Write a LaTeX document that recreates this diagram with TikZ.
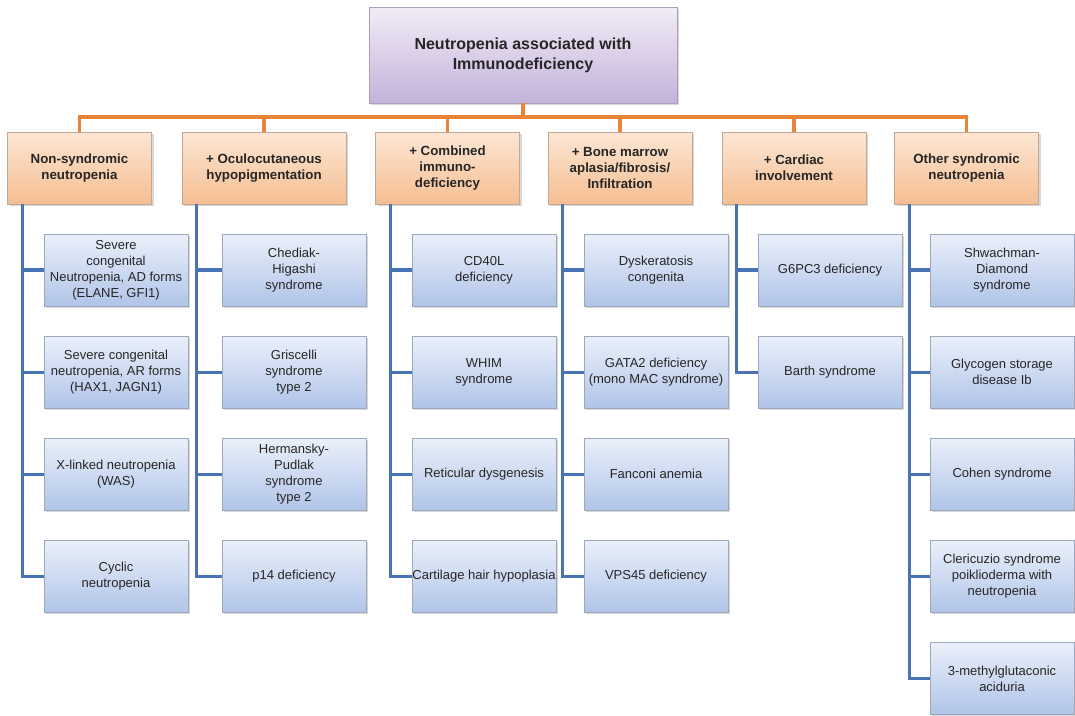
\documentclass[tikz,border=0pt]{standalone}
\usepackage{fontspec}
\setmainfont{Liberation Sans}
\usepackage{xcolor}
\usetikzlibrary{positioning,shadows}

\definecolor{busline}{RGB}{234,132,58}
\definecolor{trunkline}{RGB}{72,116,182}
\definecolor{rootTop}{RGB}{242,236,247}
\definecolor{rootBot}{RGB}{196,178,218}
\definecolor{rootEdge}{RGB}{170,160,184}
\definecolor{headTop}{RGB}{252,230,212}
\definecolor{headBot}{RGB}{245,190,146}
\definecolor{headEdge}{RGB}{196,168,146}
\definecolor{leafTop}{RGB}{234,240,250}
\definecolor{leafBot}{RGB}{176,196,232}
\definecolor{leafEdge}{RGB}{158,168,188}
\definecolor{txt}{RGB}{38,38,38}

\begin{document}
\begin{tikzpicture}[x=1pt, y=-1pt, node distance=29.75pt,
    softshadow/.style={drop shadow={shadow xshift=2pt, shadow yshift=-2pt, opacity=0.35, fill=black!45}},
    rootbox/.style={draw=rootEdge, top color=rootTop, bottom color=rootBot, softshadow,
      minimum width=308pt, minimum height=96pt, align=center, text=black!85,
      font=\bfseries\fontsize{16}{20}\selectfont},
    headbox/.style={draw=headEdge, top color=headTop, bottom color=headBot, softshadow,
      minimum width=144pt, minimum height=72pt, align=center, text=black!85,
      font=\bfseries\fontsize{13.3}{16}\selectfont},
    leafbox/.style={draw=leafEdge, top color=leafTop, bottom color=leafBot, softshadow,
      minimum width=144pt, minimum height=72pt, inner xsep=0pt, align=center, text=txt,
      font=\fontsize{13}{16}\selectfont},
    busstyle/.style={draw=busline, line width=3.2pt},
    trunkstyle/.style={draw=trunkline, line width=3.2pt}]
\useasboundingbox (0,0) rectangle (1075,715);

% Root
\node[rootbox] (root) at (523,55) {Neutropenia associated with\\Immunodeficiency};

% Groups
\node[headbox] (h1) at (79.5,168) {Non-syndromic\\neutropenia};
\node[headbox, minimum width=164pt] (h2) at (264,168) {+ Oculocutaneous\\hypopigmentation};
\node[headbox] (h3) at (447.5,168) {+ Combined\\immuno-\\deficiency};
\node[headbox] (h4) at (620,168) {+ Bone marrow\\aplasia/fibrosis/\\Infiltration};
\node[headbox] (h5) at (794,168) {+ Cardiac\\involvement};
\node[headbox] (h6) at (966.5,168) {Other syndromic\\neutropenia};

% Column 1
\node[leafbox] (n11) at (116,270) {Severe\\congenital\\Neutropenia, AD forms\\(ELANE, GFI1)};
\node[leafbox, below=of n11] (n12) {Severe congenital\\neutropenia, AR forms\\(HAX1, JAGN1)};
\node[leafbox, below=of n12] (n13) {X-linked neutropenia\\(WAS)};
\node[leafbox, below=of n13] (n14) {Cyclic\\neutropenia};

% Column 2
\node[leafbox] (n21) at (294,270) {Chediak-\\Higashi\\syndrome};
\node[leafbox, below=of n21] (n22) {Griscelli\\syndrome\\type 2};
\node[leafbox, below=of n22] (n23) {Hermansky-\\Pudlak\\syndrome\\type 2};
\node[leafbox, below=of n23] (n24) {p14 deficiency};

% Column 3
\node[leafbox] (n31) at (484,270) {CD40L\\deficiency};
\node[leafbox, below=of n31] (n32) {WHIM\\syndrome};
\node[leafbox, below=of n32] (n33) {Reticular dysgenesis};
\node[leafbox, below=of n33] (n34) {Cartilage hair hypoplasia};

% Column 4
\node[leafbox] (n41) at (656,270) {Dyskeratosis\\congenita};
\node[leafbox, below=of n41] (n42) {GATA2 deficiency\\(mono MAC syndrome)};
\node[leafbox, below=of n42] (n43) {Fanconi anemia};
\node[leafbox, below=of n43] (n44) {VPS45 deficiency};

% Column 5
\node[leafbox] (n51) at (830,270) {G6PC3 deficiency};
\node[leafbox, below=of n51] (n52) {Barth syndrome};

% Column 6
\node[leafbox] (n61) at (1002,270) {Shwachman-\\Diamond\\syndrome};
\node[leafbox, below=of n61] (n62) {Glycogen storage\\disease Ib};
\node[leafbox, below=of n62] (n63) {Cohen syndrome};
\node[leafbox, below=of n63] (n64) {Clericuzio syndrome\\poiklioderma with\\neutropenia};
\node[leafbox, below=of n64] (n65) {3-methylglutaconic\\aciduria};

% Orange bus
\coordinate (bus) at (523,117);
\draw[busstyle] (root.south) -- (bus);
\draw[busstyle] (h1.north) |- (bus) -| (h6.north);
\draw[busstyle] (h2.north) -- (h2.north |- bus);
\draw[busstyle] (h3.north) -- (h3.north |- bus);
\draw[busstyle] (h4.north) -- (h4.north |- bus);
\draw[busstyle] (h5.north) -- (h5.north |- bus);

% Blue trunks
\coordinate (t1) at ([xshift=15pt]h1.south west);
\coordinate (t2) at ([xshift=15pt]h2.south west);
\coordinate (t3) at ([xshift=15pt]h3.south west);
\coordinate (t4) at ([xshift=15pt]h4.south west);
\coordinate (t5) at ([xshift=15pt]h5.south west);
\coordinate (t6) at ([xshift=15pt]h6.south west);
\draw[trunkstyle] (t1) |- (n14.west);
\draw[trunkstyle] (t2) |- (n24.west);
\draw[trunkstyle] (t3) |- (n34.west);
\draw[trunkstyle] (t4) |- (n44.west);
\draw[trunkstyle] (t5) |- (n52.west);
\draw[trunkstyle] (t6) |- (n65.west);
\foreach \n in {n11,n12,n13} \draw[trunkstyle] (t1 |- \n.west) -- (\n.west);
\foreach \n in {n21,n22,n23} \draw[trunkstyle] (t2 |- \n.west) -- (\n.west);
\foreach \n in {n31,n32,n33} \draw[trunkstyle] (t3 |- \n.west) -- (\n.west);
\foreach \n in {n41,n42,n43} \draw[trunkstyle] (t4 |- \n.west) -- (\n.west);
\draw[trunkstyle] (t5 |- n51.west) -- (n51.west);
\foreach \n in {n61,n62,n63,n64} \draw[trunkstyle] (t6 |- \n.west) -- (\n.west);
\end{tikzpicture}
\end{document}
